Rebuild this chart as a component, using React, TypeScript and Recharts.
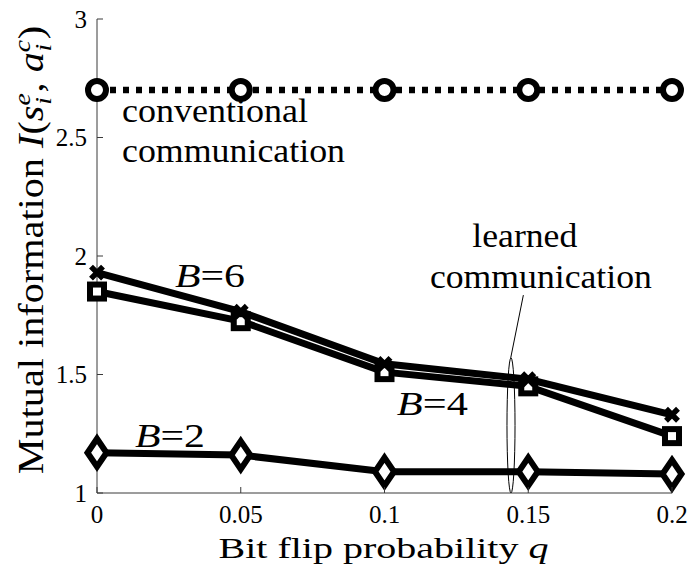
import React from 'react';
import { LineChart, Line, XAxis, YAxis, ReferenceLine, ReferenceArea, ReferenceDot } from 'recharts';

// ---- data ----
const qValues = [0, 0.05, 0.1, 0.15, 0.2];
const conventional = [2.7, 2.7, 2.7, 2.7, 2.7];
const learnedB6 = [1.93, 1.765, 1.545, 1.48, 1.33];
const learnedB4 = [1.85, 1.725, 1.51, 1.45, 1.24];
const learnedB2 = [1.17, 1.16, 1.09, 1.09, 1.08];

const xTicks = [0, 0.05, 0.1, 0.15, 0.2];
const xTickLabels = ['0', '0.05', '0.1', '0.15', '0.2'];
const yTicks = [1, 1.5, 2, 2.5, 3];
const yTickLabels = ['1', '1.5', '2', '2.5', '3'];

const data = qValues.map((q, i) => ({
  q,
  conv: conventional[i],
  b6: learnedB6[i],
  b4: learnedB4[i],
  b2: learnedB2[i],
}));

const FONT = '"Liberation Serif", "Times New Roman", serif';
const AXIS = '#3a3a3a';
const AXIS_LIGHT = '#7a7a7a';

// ---- ticks (inward, MATLAB style) ----
const BottomTick = (p: any) => {
  const idx = xTicks.indexOf(p.payload.value);
  return (
    <g>
      <line x1={p.x} y1={p.y} x2={p.x} y2={p.y - 6} stroke={AXIS} strokeWidth={1} />
      <text x={p.x} y={p.y + 30} textAnchor="middle" fontSize={25} fontFamily={FONT} fill="#000">
        {xTickLabels[idx]}
      </text>
    </g>
  );
};
const TopTick = (p: any) => (
  <line x1={p.x} y1={p.y} x2={p.x} y2={p.y + 6} stroke={AXIS} strokeWidth={1} />
);
const LeftTick = (p: any) => {
  const idx = yTicks.indexOf(p.payload.value);
  return (
    <g>
      <line x1={p.x} y1={p.y} x2={p.x + 6} y2={p.y} stroke={AXIS} strokeWidth={1} />
      <text x={p.x - 10} y={p.y + 8.5} textAnchor="end" fontSize={25} fontFamily={FONT} fill="#000">
        {yTickLabels[idx]}
      </text>
    </g>
  );
};
const RightTick = (p: any) => (
  <line x1={p.x} y1={p.y} x2={p.x - 6} y2={p.y} stroke={AXIS_LIGHT} strokeWidth={1} />
);

// ---- markers ----
const CircleMarker = (p: any) =>
  p.cx == null ? null : (
    <circle key={p.key} cx={p.cx} cy={p.cy} r={9} fill="#fff" stroke="#000" strokeWidth={6} />
  );
const SquareMarker = (p: any) =>
  p.cx == null ? null : (
    <rect key={p.key} x={p.cx - 7} y={p.cy - 7} width={14} height={14} fill="#fff" stroke="#000" strokeWidth={6} />
  );
const DiamondMarker = (p: any) =>
  p.cx == null ? null : (
    <polygon
      key={p.key}
      points={`${p.cx},${p.cy - 14} ${p.cx + 9.5},${p.cy} ${p.cx},${p.cy + 14} ${p.cx - 9.5},${p.cy}`}
      fill="#fff"
      stroke="#000"
      strokeWidth={6}
      strokeLinejoin="miter"
    />
  );
const CrossMarker = (p: any) =>
  p.cx == null ? null : (
    <path
      key={p.key}
      d={`M${p.cx - 6},${p.cy - 6}L${p.cx + 6},${p.cy + 6}M${p.cx - 6},${p.cy + 6}L${p.cx + 6},${p.cy - 6}`}
      stroke="#000"
      strokeWidth={5.5}
      fill="none"
    />
  );

// ---- annotations (anchor in data coordinates: left/baseline) ----
type Ann = { q: number; v: number; width: number; size: number; content: string; anchor?: string };
const annotations: Ann[] = [
  { q: 0.0087, v: 2.565, width: 186, size: 33, content: 'conventional' },
  { q: 0.0087, v: 2.397, width: 223, size: 33, content: 'communication' },
  { q: 0.1488, v: 2.038, width: 105, size: 33, content: 'learned', anchor: 'middle' },
  { q: 0.1544, v: 1.865, width: 222, size: 33, content: 'communication', anchor: 'middle' },
  { q: 0.0271, v: 1.869, width: 70, size: 34, content: 'B6' },
  { q: 0.1043, v: 1.329, width: 71, size: 34, content: 'B4' },
  { q: 0.0132, v: 1.194, width: 70, size: 34, content: 'B2' },
];

const renderAnnText = (a: Ann) => (p: any) => {
  const isB = /^B\d$/.test(a.content);
  return (
    <text
      x={p.cx}
      y={p.cy}
      fontSize={a.size}
      fontFamily={FONT}
      fill="#000"
      textAnchor={a.anchor || 'start'}
      textLength={a.width}
      lengthAdjust="spacingAndGlyphs"
    >
      {isB ? (
        <>
          <tspan fontStyle="italic">B</tspan>
          {'=' + a.content.slice(1)}
        </>
      ) : (
        a.content
      )}
    </text>
  );
};

const XTitle = (props: any) => {
  const vb = props.viewBox;
  return (
    <text
      x={vb.x + vb.width / 2 - 1}
      y={vb.y + 65}
      textAnchor="middle"
      fontSize={30}
      fontFamily={FONT}
      fill="#000"
      textLength={330}
      lengthAdjust="spacingAndGlyphs"
    >
      {'Bit flip probability '}
      <tspan fontStyle="italic">q</tspan>
    </text>
  );
};

const YTitle = (props: any) => {
  const vb = props.viewBox;
  const cx = vb.x + 43;
  const cy = vb.y + vb.height / 2 - 6;
  return (
    <g transform={`translate(${cx},${cy}) rotate(-90) scale(1.15,1)`}>
      <text x={0} y={0} textAnchor="middle" fontSize={35} fontFamily={FONT} fill="#000">
        {'Mutual information '}
        <tspan fontStyle="italic">I</tspan>
        {'('}
        <tspan fontStyle="italic">s</tspan>
        <tspan fontStyle="italic" fontSize={24} dy={-13}>e</tspan>
        <tspan fontStyle="italic" fontSize={24} dx={-10} dy={21}>i</tspan>
        <tspan dx={4} dy={-8}>{', '}</tspan>
        <tspan fontStyle="italic">a</tspan>
        <tspan fontStyle="italic" fontSize={24} dy={-13}>c</tspan>
        <tspan fontStyle="italic" fontSize={24} dx={-10} dy={21}>i</tspan>
        <tspan dx={4} dy={-8}>)</tspan>
      </text>
    </g>
  );
};

const EllipseShape = (p: any) => (
  <ellipse
    cx={p.x + p.width / 2}
    cy={p.y + p.height / 2}
    rx={Math.abs(p.width) / 2}
    ry={Math.abs(p.height) / 2}
    fill="none"
    stroke="#000"
    strokeWidth={1}
  />
);

export default function App() {
  return (
    <div style={{ position: 'absolute', left: 0, top: 0, width: 689, height: 570, background: '#fff' }}>
      <LineChart width={689} height={570} data={data} margin={{ top: 19, right: 17, left: 0, bottom: 0 }}>
        <XAxis
          dataKey="q"
          type="number"
          domain={[0, 0.2]}
          ticks={xTicks}
          interval={0}
          height={77}
          tickSize={0}
          tickMargin={0}
          tick={<BottomTick />}
          axisLine={{ stroke: AXIS, strokeWidth: 1 }}
          label={{ content: (props: any) => <XTitle {...props} /> }}
        />
        <XAxis
          xAxisId="top"
          orientation="top"
          dataKey="q"
          type="number"
          domain={[0, 0.2]}
          ticks={xTicks}
          interval={0}
          height={0}
          tickSize={0}
          tickMargin={0}
          tick={<TopTick />}
          axisLine={{ stroke: AXIS, strokeWidth: 1 }}
        />
        <YAxis
          type="number"
          domain={[1, 3]}
          ticks={yTicks}
          interval={0}
          width={97}
          tickSize={0}
          tickMargin={0}
          tick={<LeftTick />}
          axisLine={{ stroke: AXIS, strokeWidth: 1 }}
          label={{ content: (props: any) => <YTitle {...props} /> }}
        />
        <YAxis
          yAxisId="right"
          orientation="right"
          type="number"
          domain={[1, 3]}
          ticks={yTicks}
          interval={0}
          width={0}
          tickSize={0}
          tickMargin={0}
          tick={<RightTick />}
          axisLine={{ stroke: AXIS_LIGHT, strokeWidth: 1 }}
        />

        <ReferenceLine
          segment={[
            { x: 0.1483, y: 1.835 },
            { x: 0.1439, y: 1.57 },
          ]}
          stroke="#000"
          strokeWidth={1}
          ifOverflow="visible"
        />
        <ReferenceArea
          x1={0.1426}
          x2={0.1454}
          y1={1.0}
          y2={1.57}
          ifOverflow="visible"
          shape={(p: any) => <EllipseShape {...p} />}
        />

        <Line
          dataKey="conv"
          type="linear"
          stroke="#000"
          strokeWidth={6.5}
          strokeDasharray="6 7"
          dot={(p: any) => <CircleMarker {...p} />}
          activeDot={false}
          isAnimationActive={false}
        />
        <Line
          dataKey="b2"
          type="linear"
          stroke="#000"
          strokeWidth={7}
          dot={(p: any) => <DiamondMarker {...p} />}
          activeDot={false}
          isAnimationActive={false}
        />
        <Line
          dataKey="b4"
          type="linear"
          stroke="#000"
          strokeWidth={7}
          dot={(p: any) => <SquareMarker {...p} />}
          activeDot={false}
          isAnimationActive={false}
        />
        <Line
          dataKey="b6"
          type="linear"
          stroke="#000"
          strokeWidth={7}
          dot={(p: any) => <CrossMarker {...p} />}
          activeDot={false}
          isAnimationActive={false}
        />

        {annotations.map((a, i) => (
          <ReferenceDot
            key={i}
            x={a.q}
            y={a.v}
            r={0}
            ifOverflow="visible"
            shape={renderAnnText(a)}
          />
        ))}
      </LineChart>
    </div>
  );
}
